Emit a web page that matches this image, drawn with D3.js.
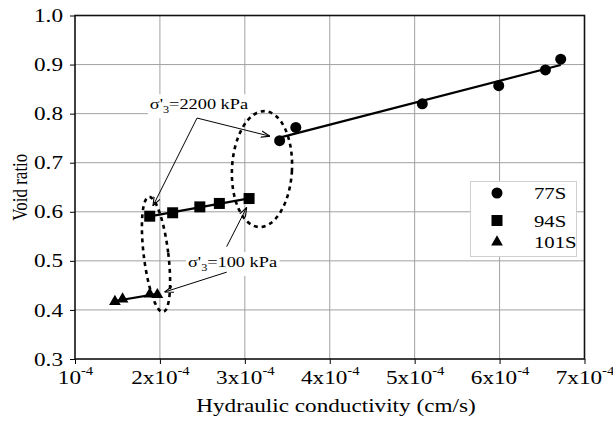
<!DOCTYPE html>
<html>
<head>
<meta charset="utf-8">
<script src="https://cdn.jsdelivr.net/npm/d3@7"></script>
<style>
  body { margin: 0; background: #fff; }
</style>
</head>
<body>
<script>
// Void ratio against hydraulic conductivity for three samples

// --- data ---
var seriesNames = ["77S", "94S", "101S"];

var k77 = [3.41e-4, 3.60e-4, 5.09e-4, 5.99e-4, 6.54e-4, 6.72e-4];
var e77 = [0.745, 0.772, 0.820, 0.857, 0.889, 0.911];

var k94 = [1.88e-4, 2.15e-4, 2.47e-4, 2.70e-4, 3.05e-4];
var e94 = [0.591, 0.598, 0.610, 0.617, 0.627];

var k101 = [1.47e-4, 1.56e-4, 1.88e-4, 1.97e-4];
var e101 = [0.417, 0.422, 0.432, 0.431];

var xTicks = [1e-4, 2e-4, 3e-4, 4e-4, 5e-4, 6e-4, 7e-4];
var xTickMantissa = ["", "2x", "3x", "4x", "5x", "6x", "7x"];
var yTicks = [0.3, 0.4, 0.5, 0.6, 0.7, 0.8, 0.9, 1.0];

// annotation labels, in data units
var noteLabels = ["2200 kPa", "100 kPa"];
var noteAt = [[2.46e-4, 0.809], [2.855e-4, 0.4875]];
// arrows: [from k, from e, to k, to e]
var noteArrows = [
  [2.437e-4, 0.791, 1.918e-4, 0.612],
  [2.437e-4, 0.791, 3.296e-4, 0.754],
  [2.786e-4, 0.529, 3.022e-4, 0.609],
  [2.786e-4, 0.477, 2.055e-4, 0.4365]
];
// dashed ellipses: centre k, centre e
var ellipseCentres = [[3.202e-4, 0.687], [1.954e-4, 0.513]];

// --- layout ---
var width = 613, height = 423;
var margin = { left: 75, right: 28.5, top: 15.5, bottom: 64 };
var stretch = 1.22; // the picture's text is wider than it is tall
var serif = "'Liberation Serif', Tinos, 'Times New Roman', Times, serif";

var x = d3.scaleLinear()
  .domain([1e-4, 7e-4])
  .range([margin.left, width - margin.right]);

var y = d3.scaleLinear()
  .domain([0.3, 1.0])
  .range([height - margin.bottom, margin.top]);

var svg = d3.select('body')
  .append('svg')
  .attr('width', width)
  .attr('height', height)
  .attr('font-family', serif);

// widen text horizontally to match the reference
function widen(sel, k) {
  sel.each(function() {
    var w = this.getComputedTextLength();
    d3.select(this).attr('textLength', w * k).attr('lengthAdjust', 'spacingAndGlyphs');
  });
}

// arrow head
svg.append('defs').append('marker')
  .attr('id', 'head')
  .attr('viewBox', '0 0 10 10')
  .attr('refX', 10).attr('refY', 5)
  .attr('markerWidth', 9).attr('markerHeight', 9)
  .attr('markerUnits', 'userSpaceOnUse')
  .attr('orient', 'auto')
  .append('path')
  .attr('d', 'M0,1.5 L10,5 L0,8.5')
  .attr('fill', 'none')
  .attr('stroke', '#000')
  .attr('stroke-width', 1.2);

// grid lines
var grid = svg.append('g').attr('stroke', '#a0a0a0').attr('stroke-width', 1);
grid.selectAll('.vx').data(xTicks.slice(1, -1)).enter().append('line')
  .attr('x1', function(d) { return x(d); }).attr('x2', function(d) { return x(d); })
  .attr('y1', y(1.0)).attr('y2', y(0.3));
grid.selectAll('.hy').data(yTicks.slice(1, -1)).enter().append('line')
  .attr('x1', x(1e-4)).attr('x2', x(7e-4))
  .attr('y1', function(d) { return y(d); }).attr('y2', function(d) { return y(d); });

// axes
var xAxis = svg.append('g')
  .attr('transform', 'translate(0,' + y(0.3) + ')')
  .call(d3.axisBottom(x).tickValues(xTicks).tickSize(5).tickPadding(7))
  .attr('font-family', null);
xAxis.select('.domain').remove();
xAxis.selectAll('.tick text')
  .attr('font-size', 19)
  .text(null)
  .each(function(d, i) {
    var t = d3.select(this);
    t.append('tspan').text(xTickMantissa[i] + '10');
    t.append('tspan').attr('font-size', 12).attr('dy', '-0.75em').text('-4');
  });
widen(xAxis.selectAll('.tick text'), stretch);

var yAxis = svg.append('g')
  .attr('transform', 'translate(' + x(1e-4) + ',0)')
  .call(d3.axisLeft(y).tickValues(yTicks).tickFormat(d3.format('.1f')).tickSize(5).tickPadding(7))
  .attr('font-family', null);
yAxis.select('.domain').remove();
yAxis.selectAll('.tick text').attr('font-size', 19);
widen(yAxis.selectAll('.tick text'), stretch);

// plot frame
svg.append('rect')
  .attr('x', x(1e-4)).attr('y', y(1.0))
  .attr('width', x(7e-4) - x(1e-4)).attr('height', y(0.3) - y(1.0))
  .attr('fill', 'none').attr('stroke', '#111').attr('stroke-width', 1.6);

// axis titles
var xTitle = svg.append('text')
  .attr('x', 336).attr('y', 412)
  .attr('text-anchor', 'middle').attr('font-size', 19)
  .text('Hydraulic conductivity (cm/s)');
widen(xTitle, stretch);

svg.append('text')
  .attr('transform', 'translate(27,' + ((y(0.3) + y(1.0)) / 2) + ') rotate(-90) scale(1,' + stretch + ')')
  .attr('text-anchor', 'middle').attr('font-size', 17)
  .text('Void ratio');

// annotation text with white backing
var notes = svg.append('g');
noteLabels.forEach(function(lab, i) {
  var g = notes.append('g');
  var t = g.append('text')
    .attr('x', x(noteAt[i][0])).attr('y', y(noteAt[i][1]))
    .attr('text-anchor', 'middle').attr('font-size', 15);
  t.append('tspan').text("σ'");
  t.append('tspan').attr('font-size', 10).attr('dy', 4).text('3');
  t.append('tspan').attr('dy', -4).text('=' + lab);
  widen(t, stretch);
  var b = t.node().getBBox();
  g.insert('rect', 'text')
    .attr('x', b.x - 2).attr('y', b.y - 2)
    .attr('width', b.width + 4).attr('height', b.height + 5)
    .attr('fill', '#fff');
});

// fitted lines (least squares through each series)
function fit(ks, es) {
  var mk = d3.mean(ks), me = d3.mean(es);
  var sxy = d3.sum(ks, function(k, i) { return (k - mk) * (es[i] - me); });
  var sxx = d3.sum(ks, function(k) { return (k - mk) * (k - mk); });
  var b = sxy / sxx, a = me - b * mk;
  var k0 = d3.min(ks), k1 = d3.max(ks);
  return [[k0, a + b * k0], [k1, a + b * k1]];
}

var line = d3.line()
  .x(function(d) { return x(d[0]); })
  .y(function(d) { return y(d[1]); });

var allK = [k77, k94, k101], allE = [e77, e94, e101];
var symbols = [d3.symbolCircle, d3.symbolSquare, d3.symbolTriangle];
var symSize = [95, 121, 60];

allK.forEach(function(ks, s) {
  svg.append('path')
    .attr('d', line(fit(ks, allE[s])))
    .attr('fill', 'none').attr('stroke', '#000').attr('stroke-width', 2.2);
  svg.selectAll('.pt' + s)
    .data(ks).enter().append('path')
    .attr('transform', function(d, i) { return 'translate(' + x(d) + ',' + y(allE[s][i]) + ')'; })
    .attr('d', d3.symbol().type(symbols[s]).size(symSize[s]))
    .attr('fill', '#000');
});

// dashed ellipses
var ellR = [[30, 58, 3], [12.3, 58, -7]];
svg.selectAll('.ell')
  .data(ellipseCentres).enter().append('ellipse')
  .attr('transform', function(d, i) {
    return 'translate(' + x(d[0]) + ',' + y(d[1]) + ') rotate(' + ellR[i][2] + ')';
  })
  .attr('rx', function(d, i) { return ellR[i][0]; })
  .attr('ry', function(d, i) { return ellR[i][1]; })
  .attr('fill', 'none').attr('stroke', '#000')
  .attr('stroke-width', 2.6).attr('stroke-dasharray', '4,4');

// arrows
svg.selectAll('.arrow')
  .data(noteArrows).enter().append('line')
  .attr('x1', function(d) { return x(d[0]); }).attr('y1', function(d) { return y(d[1]); })
  .attr('x2', function(d) { return x(d[2]); }).attr('y2', function(d) { return y(d[3]); })
  .attr('stroke', '#000').attr('stroke-width', 1)
  .attr('marker-end', 'url(#head)');

// legend
var legend = svg.append('g');
legend.append('rect')
  .attr('x', 470.5).attr('y', 181.5).attr('width', 106).attr('height', 75)
  .attr('fill', '#fff').attr('stroke', '#d0d0d0').attr('stroke-width', 1);
var legY = [193, 220.5, 242];
seriesNames.forEach(function(name, s) {
  legend.append('path')
    .attr('transform', 'translate(497,' + legY[s] + ')')
    .attr('d', d3.symbol().type(symbols[s]).size(symSize[s]))
    .attr('fill', '#000');
  var t = legend.append('text')
    .attr('x', 534).attr('y', legY[s] + 6)
    .attr('font-size', 17)
    .text(name);
  widen(t, stretch);
});
</script>
</body>
</html>
